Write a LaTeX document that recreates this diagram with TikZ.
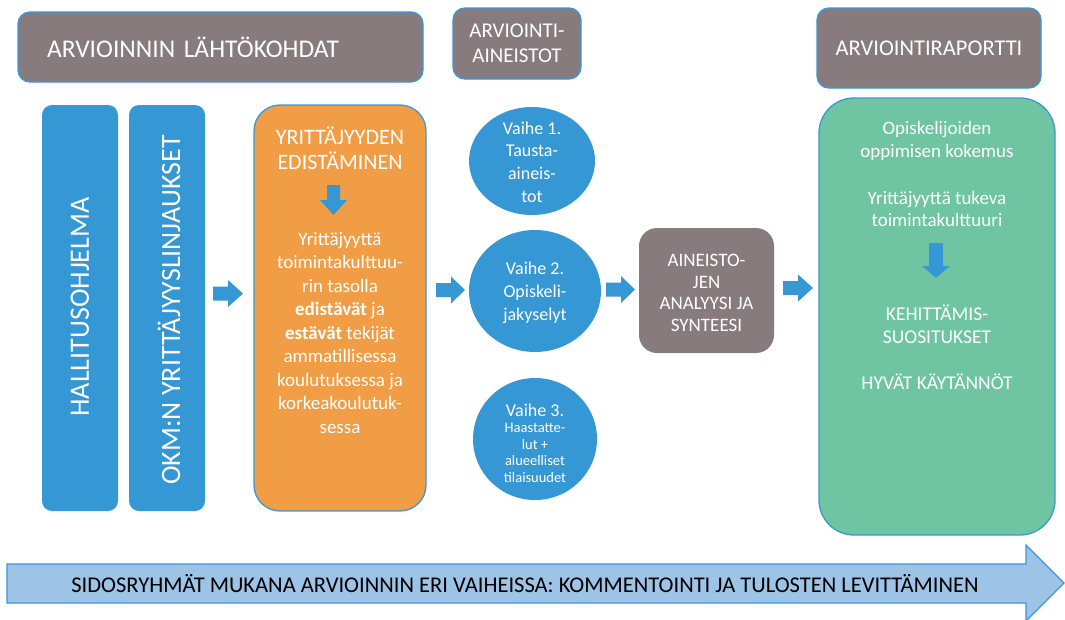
\documentclass[tikz,border=0pt]{standalone}
\usepackage{fontspec}
\setmainfont{Carlito}
\usetikzlibrary{shapes.geometric}
\definecolor{hdrgray}{RGB}{136,123,126}
\definecolor{barblue}{RGB}{53,151,211}
\definecolor{edgeblue}{RGB}{58,152,214}
\definecolor{orangebox}{RGB}{240,157,69}
\definecolor{greenbox}{RGB}{111,197,161}
\definecolor{lightblue}{RGB}{157,195,230}
\newcommand\fsz[2]{\fontsize{#1}{#2}\selectfont}
\tikzset{
  hdr/.style={draw=edgeblue, line width=1.3pt, fill=hdrgray, rounded corners=12pt, text=white, align=center, inner sep=0pt},
  barbox/.style={fill=barblue, rounded corners=10pt, minimum width=76pt, minimum height=406pt, inner sep=0pt},
  bartext/.style={rotate=90, text=white, font=\fsz{28}{32}, inner sep=0pt},
  wtext/.style={text=white, align=center, inner sep=0pt},
  circ/.style={ellipse, fill=barblue, inner sep=0pt},
  pics/barrow/.style n args={4}{code={
    \fill[barblue] (0,-#3) -- (#1,-#3) -- (#1,-#4) -- (#1+#2,0) -- (#1,#4) -- (#1,#3) -- (0,#3) -- cycle;}}
}
\begin{document}
\begin{tikzpicture}[x=1pt,y=-1pt]
\useasboundingbox (0,0) rectangle (1065,619);

% headers
\node[hdr, minimum width=405pt, minimum height=70pt, text width=347pt, inner xsep=29pt, align=left, font=\fsz{25.5}{29}] (h1) at (220.5,47) {ARVIOINNIN LÄHTÖKOHDAT};
\node[hdr, minimum width=128pt, minimum height=71pt, font=\fsz{21}{25}] (h2) at (517,43.5) {ARVIOINTI-\\AINEISTOT};
\node[hdr, minimum width=224pt, minimum height=80pt, font=\fsz{22.5}{26}] (h3) at (929,48) {ARVIOINTIRAPORTTI};

% blue bars
\node[barbox] (b1) at (80,308) {};
\node[bartext] (t1) at (80,307) {HALLITUSOHJELMA};
\node[barbox] (b2) at (167,308) {};
\node[bartext] (t2) at (169,310) {OKM:N YRITTÄJYYSLINJAUKSET};

% orange box
\node[draw=edgeblue, line width=1.3pt, fill=orangebox, rounded corners=26pt, minimum width=172pt, minimum height=406pt] (ob) at (340,308) {};
\node[wtext, font=\fsz{22}{25}] (ot) at (340,148) {YRITTÄJYYDEN\\EDISTÄMINEN};
\pic at (333.5,185) [rotate=-90] {barrow={15}{15}{6.5}{13.5}};
\node[wtext, font=\fsz{19}{23.5}] (ox) at (340,333) {Yrittäjyyttä\\toimintakulttuu-\\rin tasolla\\\textbf{edistävät} ja\\\textbf{estävät} tekijät\\ammatillisessa\\koulutuksessa ja\\korkeakoulutuk-\\sessa};

% arrows
\pic at (213,293.5) {barrow={15}{15}{7}{13.5}};
\pic at (436,290) {barrow={15}{14}{7}{13.5}};
\pic at (606,289.5) {barrow={15}{14}{7}{13.5}};
\pic at (783,288) {barrow={15}{15}{7}{13.5}};

% circles
\node[circ, minimum width=126pt, minimum height=108pt] (c1) at (532,161) {};
\node[wtext, font=\fsz{18}{22.7}] (c1t) at (532,162) {Vaihe 1.\\Tausta-\\aineis-\\tot};
\node[circ, minimum width=132pt, minimum height=122pt] (c2) at (535,291) {};
\node[wtext, font=\fsz{18}{23}] (c2t) at (535,293) {Vaihe 2.\\Opiskeli-\\jakyselyt};
\node[circ, minimum width=124pt, minimum height=122pt] (c3) at (535,439) {};
\node[wtext, font=\fsz{18}{22}] (c3a) at (535,410) {Vaihe 3.};
\node[wtext, font=\fsz{14.5}{16.7}, anchor=north] (c3t) at (535,423) {Haastatte-\\lut +\\alueelliset\\tilaisuudet};

% analysis box
\node[fill=hdrgray, rounded corners=18pt, minimum width=135pt, minimum height=125pt] (gb) at (706.5,290.5) {};
\node[wtext, font=\fsz{19}{21.5}] (gt) at (706.5,293) {AINEISTO-\\JEN\\ANALYYSI JA\\SYNTEESI};

% green box
\node[draw=edgeblue, line width=1.3pt, fill=greenbox, rounded corners=35pt, minimum width=236pt, minimum height=437pt] (gr) at (937,316.5) {};
\node[wtext, font=\fsz{19}{22.5}] (g1) at (937,141) {Opiskelijoiden\\oppimisen kokemus};
\node[wtext, font=\fsz{19}{22.5}] (g2) at (937,209) {Yrittäjyyttä tukeva\\toimintakulttuuri};
\pic at (936,243) [rotate=-90] {barrow={23}{12}{7}{14}};
\node[wtext, font=\fsz{19.5}{23}] (g3) at (937,324) {KEHITTÄMIS-\\SUOSITUKSET};
\node[wtext, font=\fsz{19.5}{22}] (g4) at (937,382) {HYVÄT KÄYTÄNNÖT};

% bottom arrow
\draw[edgeblue, line width=1.3pt, fill=lightblue] (7,564) -- (1026,564) -- (1026,545) -- (1064,583) -- (1026,621) -- (1026,603) -- (7,603) -- cycle;
\node[inner sep=0pt, font=\fsz{22.5}{26}] (bt) at (525,583.5) {SIDOSRYHMÄT MUKANA ARVIOINNIN ERI VAIHEISSA: KOMMENTOINTI JA TULOSTEN LEVITTÄMINEN};
\end{tikzpicture}
\end{document}
